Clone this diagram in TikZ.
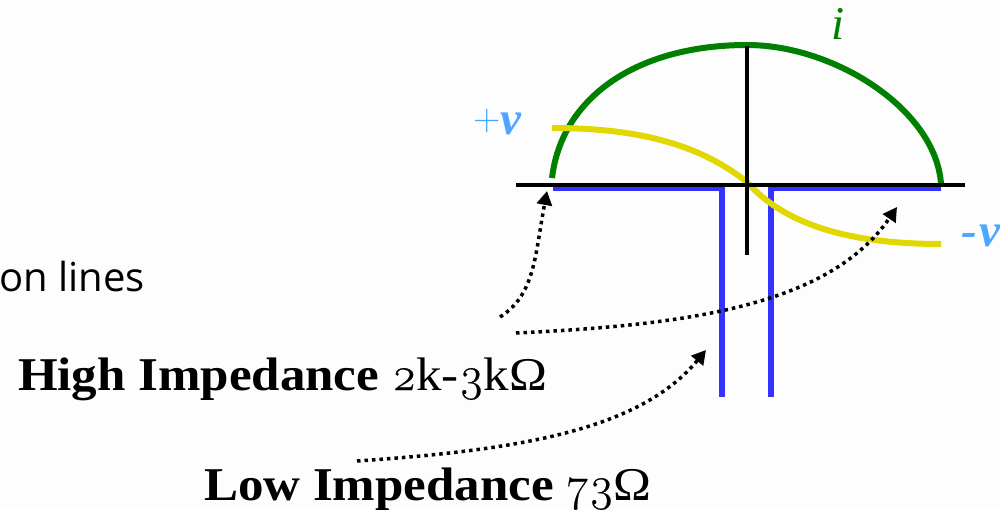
\documentclass[tikz,border=0pt]{standalone}
\usepackage{fontspec}
\usetikzlibrary{arrows.meta}
\setmainfont{Liberation Serif}
\newfontfamily\oldnum[Numbers=OldStyle,FakeBold=0.4]{Latin Modern Roman}
\newfontfamily\plusfont{Latin Modern Roman}
\newfontfamily\impfont[FakeStretch=1.085]{Liberation Serif}
\newfontfamily\labelsans{Open Sans}
\definecolor{bgc}{HTML}{FDFDFD}
\definecolor{wireblue}{HTML}{3333FF}
\definecolor{curvegreen}{HTML}{008000}
\definecolor{curveyellow}{HTML}{E0D800}
\definecolor{voltblue}{HTML}{4DA6FF}
\tikzset{
  axis/.style={black,line width=3.5pt},
  wire/.style={wireblue,line width=6pt},
  wirebar/.style={wireblue,line width=4pt},
  curveline/.style={line width=6pt},
  pointer/.style={black,line width=3.5pt,dash pattern=on 3.5pt off 4pt,-{Triangle[length=14pt,width=15pt]}},
  imp/.style={anchor=base west,inner sep=0pt,outer sep=0pt,font=\fontsize{47}{52}\selectfont\impfont},
  sym/.style={anchor=base west,inner sep=0pt,outer sep=0pt,font=\fontsize{47}{50}\selectfont\itshape}
}
\begin{document}
\begin{tikzpicture}[x=1pt,y=-1pt]
\useasboundingbox[fill=bgc] (0,0) rectangle (1000,510);
% antenna
\draw[wirebar] (553,189) -- (724,189);
\draw[wirebar] (769,189) -- (941,189);
\draw[wire] (722,187) -- (722,397);
\draw[wire] (771,187) -- (771,397);
% current and voltage
\draw[curveline,curvegreen] (552,178) .. controls (562,95) and (640,45) .. (747,45) .. controls (835,45) and (936,110) .. (941,184);
\draw[curveline,curveyellow] (552,128) .. controls (640,128) and (700,145) .. (747,182) .. controls (785,225) and (850,244) .. (941,244);
% axes
\coordinate (hl) at (516,185); \coordinate (hr) at (965,185);
\coordinate (vt) at (747,46); \coordinate (vb) at (747,255);
\draw[axis] (hl) -- (hr);
\draw[axis] (vt) -- (vb);
% labels
\node[sym,text=voltblue] (plusv) at (473,135) {\raisebox{4.5pt}{\fontsize{38}{38}\selectfont\plusfont\upshape +}\textbf{v}};
\node[sym,text=voltblue] (minusv) at (961,247) {\textbf{-\kern3pt v}};
\node[sym,text=curvegreen] (cur) at (831,40) {i};
\node[anchor=base west,inner sep=0pt,font=\fontsize{40}{44}\selectfont\labelsans] (frag) at (-1,291) {on lines};
\node[imp] (high) at (18,390) {\textbf{High Impedance} {\oldnum 2}k-{\oldnum 3}kΩ};
\node[imp] (low) at (204,500) {\textbf{Low Impedance} {\oldnum 73}Ω};
% pointers
\coordinate (a1) at (500,317); \coordinate (t1) at (547,191);
\coordinate (a2) at (516,333); \coordinate (t2) at (897,207);
\coordinate (a3) at (357,461); \coordinate (t3) at (706,350);
\draw[pointer] (a1) .. controls (535,295) and (535,255) .. (t1);
\draw[pointer] (a2) .. controls (690,325) and (830,305) .. (t2);
\draw[pointer] (a3) .. controls (520,450) and (640,430) .. (t3);
\end{tikzpicture}
\end{document}
